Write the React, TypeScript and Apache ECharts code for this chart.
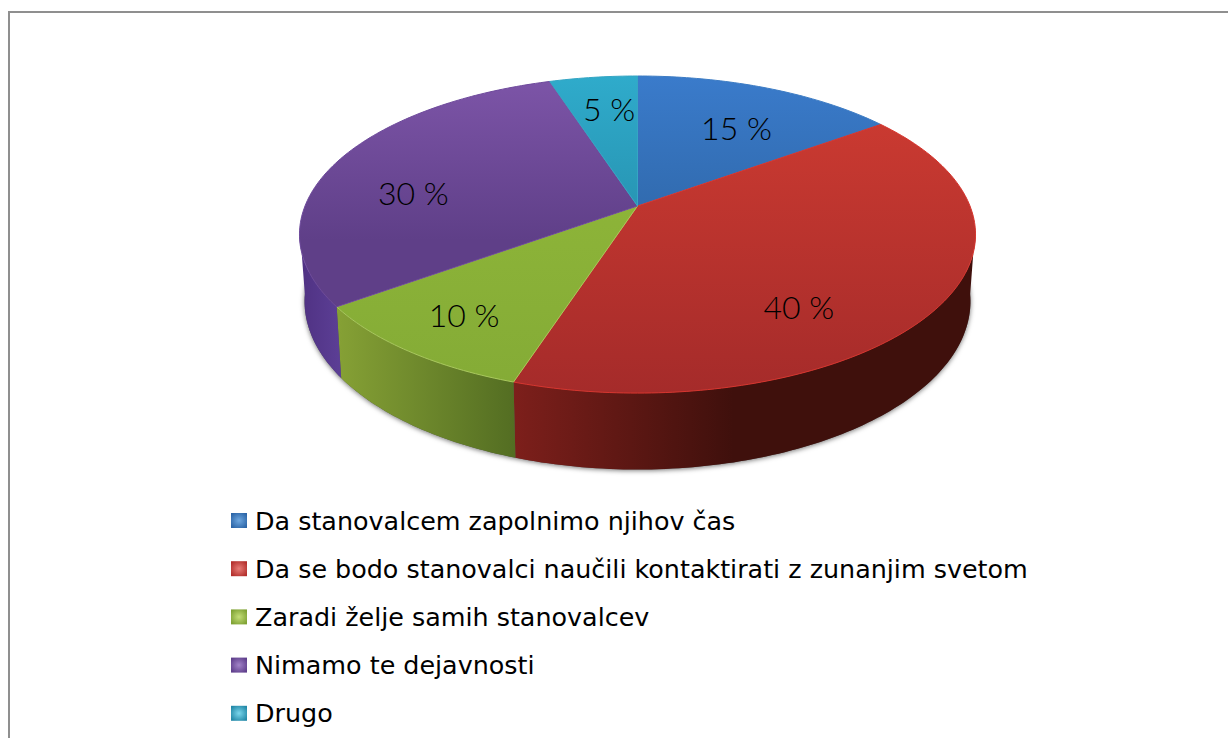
import React, { useEffect, useRef } from "react";
import * as echarts from "echarts";

const categories = [
  "Da stanovalcem zapolnimo njihov čas",
  "Da se bodo stanovalci naučili kontaktirati z zunanjim svetom",
  "Zaradi želje samih stanovalcev",
  "Nimamo te dejavnosti",
  "Drugo",
];
const values = [15, 40, 10, 30, 5];
const labelTexts = ["15 %", "40 %", "10 %", "30 %", "5 %"];

const topStops = [
  ["#3a7bcb", "#2f67a8"],
  ["#d03c32", "#a52b2a"],
  ["#93ba3a", "#84ab36"],
  ["#7d55a8", "#5f3f88"],
  ["#2fabcb", "#2690ae"],
];
const rimColors = ["#3d7cc4", "#d8352e", "#a9c95c", "#6e4a9c", "#35a6c4"];
const wallStops = [
  ["#24507f", "#24507f"],
  ["#7d1f1b", "#3f100c"],
  ["#86a135", "#536d22"],
  ["#5c3f96", "#4f3182"],
  ["#1f7c96", "#1f7c96"],
];
const iconStops = [
  ["#6fa8e0", "#2d66a8"],
  ["#e87d78", "#b32f2c"],
  ["#c4de78", "#7fa234"],
  ["#a284c8", "#5f3f8c"],
  ["#7ad6ec", "#2389a8"],
];
const labelNudges = [[4, 8], [-42, 32], [-21, 12], [-11, 18], [4, -3]];

const CX = 637.5;
const CY = 206;
const RX = 332.5;
const RY = 153.4;
const PERSP = 0.18;
const BASE_SCALE = 0.985;
const DEPTH = 65;
const FRONT_FROM = 98;
const FRONT_TO = 262;

const rad = (d: number) => (d * Math.PI) / 180;
const top = (deg: number, f = 1): [number, number] => {
  const w = 1 + PERSP * f * Math.cos(rad(deg));
  return [CX + (f * RX * Math.sin(rad(deg))) / w, CY - (f * RY * Math.cos(rad(deg))) / w];
};
const bottom = (deg: number): [number, number] => {
  const w = 1 + PERSP * Math.cos(rad(deg));
  return [
    CX + (BASE_SCALE * RX * Math.sin(rad(deg))) / w,
    CY - (BASE_SCALE * RY * Math.cos(rad(deg))) / w + DEPTH / w,
  ];
};
const arc = (fn: (d: number) => [number, number], a: number, b: number) => {
  const pts: [number, number][] = [];
  const n = Math.max(1, Math.ceil(Math.abs(b - a)));
  for (let i = 0; i <= n; i++) pts.push(fn(a + ((b - a) * i) / n));
  return pts;
};

const total = values.reduce((s, v) => s + v, 0);
const starts: number[] = [];
values.reduce((acc, v, i) => {
  starts[i] = (acc / total) * 360;
  return acc + v;
}, 0);

const sliceItem = (i: number) => () => {
  const a = starts[i];
  const b = a + (values[i] / total) * 360;
  const children: any[] = [];
  const wa = Math.max(a, FRONT_FROM);
  const wb = Math.min(b, FRONT_TO);
  if (wb > wa) {
    const wallPts = [...arc(top, wa, wb), ...arc(bottom, wb, wa)];
    const xs = wallPts.map((p) => p[0]);
    children.push({
      type: "polygon",
      shape: { points: wallPts },
      style: {
        fill: {
          type: "linear",
          x: a > 180 ? Math.max(...xs) : Math.min(...xs),
          y: 0,
          x2: a > 180 ? Math.min(...xs) : Math.min(...xs) + 220,
          y2: 0,
          global: true,
          colorStops: i === 2
            ? [{ offset: 0, color: wallStops[i][1] }, { offset: 1, color: wallStops[i][0] }]
            : [{ offset: 0, color: wallStops[i][0] }, { offset: 1, color: wallStops[i][1] }],
        },
      },
    });
  }
  children.push({
    type: "polygon",
    shape: { points: [[CX, CY], ...arc(top, a, b)] },
    style: {
      fill: {
        type: "linear",
        x: 0,
        y: 76,
        x2: 0,
        y2: i === 0 || i === 4 || i === 3 ? 240 : 393,
        global: true,
        colorStops: [
          { offset: 0, color: topStops[i][0] },
          { offset: 1, color: topStops[i][1] },
        ],
      },
      stroke: rimColors[i],
      lineWidth: 1,
      lineJoin: "round",
    },
  });
  const mid = (a + b) / 2;
  const [lx, ly] = top(mid, 0.7);
  children.push({
    type: "text",
    z2: 100,
    style: {
      x: lx + labelNudges[i][0],
      y: ly + labelNudges[i][1],
      text: labelTexts[i],
      fill: "#000",
      font: "300 32px Lato, sans-serif",
      align: "center",
      verticalAlign: "middle",
    },
  });
  return { type: "group", children };
};

const shadowItem = () => ({
  type: "polygon",
  shape: { points: arc(bottom, 80, 280) },
  style: {
    fill: "#555",
    shadowBlur: 5,
    shadowColor: "rgba(0,0,0,0.55)",
    shadowOffsetY: 1,
  },
});

export default function App() {
  const ref = useRef<HTMLDivElement>(null);
  useEffect(() => {
    const chart = echarts.init(ref.current!, undefined, { renderer: "svg" });
    chart.setOption({
      animation: false,
      backgroundColor: "#ffffff",
      legend: {
        orient: "vertical",
        left: 226,
        top: 503,
        itemWidth: 16,
        itemHeight: 15,
        itemGap: 23.2,
        selectedMode: false,
        textStyle: {
          fontFamily: "'DejaVu Sans', sans-serif",
          fontSize: 25.4,
          color: "#000",
          lineHeight: 24,
          padding: [0, 0, 0, 3],
        },
        data: categories.map((name, i) => ({
          name,
          icon: "rect",
          itemStyle: {
            color: {
              type: "radial",
              x: 0.5,
              y: 0.5,
              r: 0.6,
              colorStops: [
                { offset: 0, color: iconStops[i][0] },
                { offset: 1, color: iconStops[i][1] },
              ],
            },
          },
        })),
      },
      graphic: [
        { type: "line", shape: { x1: 8, y1: 12, x2: 1228, y2: 12 }, style: { stroke: "#8f8f8f", lineWidth: 2 } },
        { type: "line", shape: { x1: 9, y1: 11, x2: 9, y2: 738 }, style: { stroke: "#8f8f8f", lineWidth: 2 } },
      ],
      series: [
        {
          type: "custom",
          name: "base",
          coordinateSystem: "none",
          silent: true,
          data: [total],
          renderItem: shadowItem,
        },
        ...categories.map((name, i) => ({
          type: "custom",
          name,
          coordinateSystem: "none",
          silent: true,
          itemStyle: { color: topStops[i][0] },
          data: [values[i]],
          renderItem: sliceItem(i),
        })),
      ],
    });
    return () => chart.dispose();
  }, []);
  return <div ref={ref} style={{ position: "fixed", left: 0, top: 0, width: 1228, height: 738 }} />;
}
